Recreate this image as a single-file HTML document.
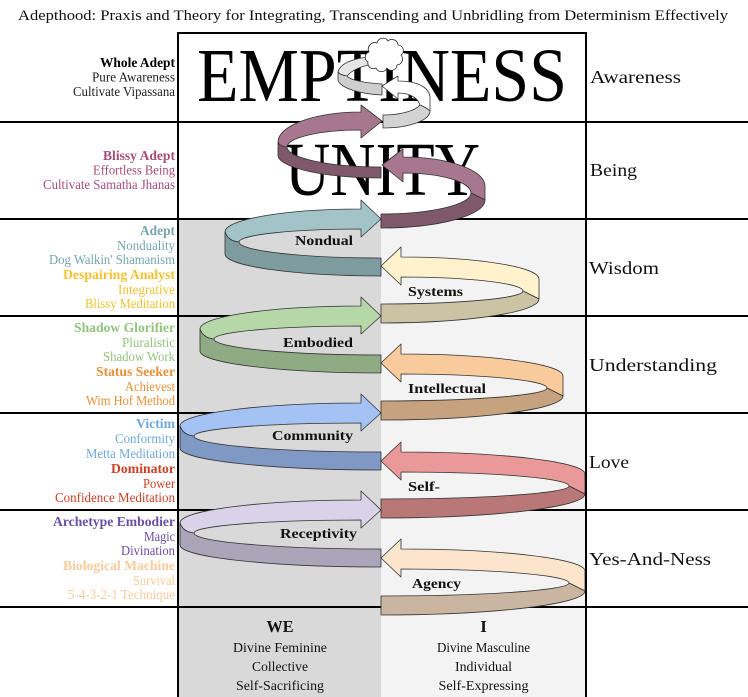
<!DOCTYPE html>
<html>
<head>
<meta charset="utf-8">
<style>
  html,body{margin:0;padding:0;background:#fff;}
  svg{display:block;}
  text{font-family:"Liberation Serif","DejaVu Serif",serif;}
  .b{font-weight:bold;}
</style>
</head>
<body>
<svg width="748" height="697" viewBox="0 0 748 697" xmlns="http://www.w3.org/2000/svg">
  <rect x="0" y="0" width="748" height="697" fill="#ffffff"/>
  <!-- middle column backgrounds -->
  <rect x="178" y="219" width="203" height="478" fill="#d9d9d9"/>
  <rect x="381" y="219" width="205" height="478" fill="#f3f3f3"/>

  <!-- horizontal lines -->
  <g stroke="#000" stroke-width="2">
    <line x1="177" y1="33" x2="587" y2="33"/>
    <line x1="0" y1="122" x2="748" y2="122"/>
    <line x1="0" y1="219" x2="748" y2="219"/>
    <line x1="0" y1="316" x2="748" y2="316"/>
    <line x1="0" y1="413" x2="748" y2="413"/>
    <line x1="0" y1="510" x2="748" y2="510"/>
    <line x1="0" y1="607" x2="748" y2="607"/>
  </g>

  <!-- Title -->
  <text x="18" y="20" font-size="15" textLength="710" lengthAdjust="spacingAndGlyphs" fill="#111">Adepthood: Praxis and Theory for Integrating, Transcending and Unbridling from Determinism Effectively</text>

  <!-- Big words -->
  <text x="197" y="101" font-size="76" textLength="370" lengthAdjust="spacingAndGlyphs" fill="#000">EMPTINESS</text>
  <text x="285" y="195" font-size="76" textLength="195" lengthAdjust="spacingAndGlyphs" fill="#000">UNITY</text>

  <!-- Arrows -->
  <g stroke="#333" stroke-width="0.8" stroke-linejoin="round">
    <!-- Row 1 grey loop -->
    <path d="M370,57 C355,58 340,63 338,72 Q340,75 347,76 C352,70 362,66 374,64 Z" fill="#e6e6e6"/>
    <path d="M338,72 L338,80 C340,88 360,94 382,95 L382,84 C365,83 350,80 347,76 Q340,75 338,72 Z" fill="#cfcfcf"/>
    <path d="M398,81 C420,81 430,89 430,98 L430,111 Q427,108 420,105 C418,98 410,93 398,93 L398,99 L382,86 L398,76 Z" fill="#ffffff"/>
    <path d="M430,111 C430,120 410,128 383,128 L383,115 C400,115 415,111 420,105 Q427,108 430,111 Z" fill="#d3d3d3"/>
    <!-- Cloud -->
    <path d="M368,62 A5.5,5.5 0 0,1 369,52 A6.5,6.5 0 0,1 377,43 A6,6 0 0,1 388,41 A6,6 0 0,1 398,45 A5.5,5.5 0 0,1 401,55 A6,6 0 0,1 397,65 A5.5,5.5 0 0,1 387,68 A6,6 0 0,1 376,68 A5.5,5.5 0 0,1 368,62 Z" fill="#ffffff" stroke="#222"/>

    <!-- Row 2 purple left -->
    <path d="M361,112 C315.2,112 278,125.4 278,142 Q280,147 287,147 C287,137.6 320.2,130 361,130 L361,138 L382,121 L361,105 Z" fill="#a6778f"/>
    <path d="M278,142 L278,155 C278,167.7 324.1,178 381,178 L381,167 C329.1,167 287,158 287,147 Q280,147 278,142 Z" fill="#7f586c"/>
    <!-- Row 2 purple right -->
    <path d="M403,157 C448.3,157 485,170 485,186 L485,200 Q481,198 471,193 C471,182 440.5,173 403,173 L403,182 L382,165 L403,149 Z" fill="#a6778f"/>
    <path d="M485,200 C485,215.5 438.4,228 381,228 L381,214 C430.7,214 471,204.6 471,193 Q481,198 485,200 Z" fill="#7f586c"/>

    <!-- Row 3 Nondual -->
    <path d="M361,209 C286,209 225,219.3 225,232 Q228,241 239,242 C239,234.8 293.7,229 361,229 L361,237 L381,219 L361,200 Z" fill="#a2c4c9"/>
    <path d="M225,232 L225,254 C225,266.1 294.9,276 381,276 L381,258 C302.6,258 239,250.8 239,242 Q228,241 225,232 Z" fill="#7e9ba0"/>
    <!-- Row 3 Systems -->
    <path d="M401,257 C477.2,257 539,266.9 539,279 L539,299 Q535,297 523,291 C523,283.3 468.3,277 401,277 L401,285 L381,266 L401,247 Z" fill="#fff2cc"/>
    <path d="M539,299 C539,312.2 468.2,323 381,323 L381,304 C459.4,304 523,298.2 523,291 Q535,297 539,299 Z" fill="#cbc3a3"/>

    <!-- Row 4 Embodied -->
    <path d="M361,306 C272.1,306 200,316.3 200,329 Q203,338 214,339 C214,331.8 279.9,326 361,326 L361,334 L381,316 L361,297 Z" fill="#b6d7a8"/>
    <path d="M200,329 L200,351 C200,363.1 281.1,373 381,373 L381,355 C288.8,355 214,347.8 214,339 Q203,338 200,329 Z" fill="#8fab84"/>
    <!-- Row 4 Intellectual -->
    <path d="M401,354 C490.4,354 563,363.9 563,376 L563,396 Q559,394 547,388 C547,380.3 481.6,374 401,374 L401,382 L381,363 L401,344 Z" fill="#f9cb9c"/>
    <path d="M563,396 C563,409.2 481.5,420 381,420 L381,401 C472.6,401 547,395.2 547,388 Q559,394 563,396 Z" fill="#c7a27e"/>

    <!-- Row 5 Community -->
    <path d="M361,403 C261.1,403 180,413.3 180,426 Q183,435 194,436 C194,428.8 268.8,423 361,423 L361,431 L381,413 L361,394 Z" fill="#a4c2f4"/>
    <path d="M180,426 L180,448 C180,460.1 270,470 381,470 L381,452 C277.8,452 194,444.8 194,436 Q183,435 180,426 Z" fill="#7f99c4"/>
    <!-- Row 5 Self- -->
    <path d="M401,452 C502.6,452 585,461.9 585,474 L585,494 Q581,492 569,486 C569,478.3 493.7,472 401,472 L401,480 L381,461 L401,442 Z" fill="#ea9999"/>
    <path d="M585,494 C585,507.2 493.6,518 381,518 L381,499 C484.8,499 569,493.2 569,486 Q581,492 585,494 Z" fill="#b97777"/>

    <!-- Row 6 Receptivity -->
    <path d="M361,500 C261.1,500 180,510.3 180,523 Q183,532 194,533 C194,525.8 268.8,520 361,520 L361,528 L381,510 L361,491 Z" fill="#d9d2e9"/>
    <path d="M180,523 L180,545 C180,557.1 270,567 381,567 L381,549 C277.8,549 194,541.8 194,533 Q183,532 180,523 Z" fill="#aaa5b9"/>
    <!-- Row 6 Agency -->
    <path d="M401,549 C502.6,549 585,558.9 585,571 L585,591 Q581,589 569,583 C569,575.3 493.7,569 401,569 L401,577 L381,558 L401,539 Z" fill="#fce5cd"/>
    <path d="M585,591 C585,604.2 493.6,615 381,615 L381,596 C484.8,596 569,590.2 569,583 Q581,589 585,591 Z" fill="#c9b5a0"/>
  </g>

  <!-- Arrow labels -->
  <g font-size="14" font-weight="bold" fill="#111">
    <text x="295" y="245" textLength="58" lengthAdjust="spacingAndGlyphs">Nondual</text>
    <text x="283" y="347" textLength="70" lengthAdjust="spacingAndGlyphs">Embodied</text>
    <text x="272" y="440" textLength="81" lengthAdjust="spacingAndGlyphs">Community</text>
    <text x="280" y="538" textLength="77" lengthAdjust="spacingAndGlyphs">Receptivity</text>
    <text x="408" y="296" textLength="55" lengthAdjust="spacingAndGlyphs">Systems</text>
    <text x="408" y="393" textLength="78" lengthAdjust="spacingAndGlyphs">Intellectual</text>
    <text x="408" y="491" textLength="32" lengthAdjust="spacingAndGlyphs">Self-</text>
    <text x="412" y="588" textLength="49" lengthAdjust="spacingAndGlyphs">Agency</text>
  </g>

  <!-- Left labels -->
  <g font-size="14" text-anchor="end">
    <text x="175" y="67" class="b" fill="#000" textLength="75" lengthAdjust="spacingAndGlyphs">Whole Adept</text>
    <text x="175" y="81.5" fill="#222" textLength="83" lengthAdjust="spacingAndGlyphs">Pure Awareness</text>
    <text x="175" y="96" fill="#222" textLength="102" lengthAdjust="spacingAndGlyphs">Cultivate Vipassana</text>

    <text x="175" y="160" class="b" fill="#a64d79" textLength="72" lengthAdjust="spacingAndGlyphs">Blissy Adept</text>
    <text x="175" y="174.5" fill="#a64d79" textLength="82" lengthAdjust="spacingAndGlyphs">Effortless Being</text>
    <text x="175" y="189" fill="#a64d79" textLength="132" lengthAdjust="spacingAndGlyphs">Cultivate Samatha Jhanas</text>

    <text x="175" y="235" class="b" fill="#76a5af" textLength="35" lengthAdjust="spacingAndGlyphs">Adept</text>
    <text x="175" y="250" fill="#76a5af" textLength="58" lengthAdjust="spacingAndGlyphs">Nonduality</text>
    <text x="175" y="264" fill="#76a5af" textLength="126" lengthAdjust="spacingAndGlyphs">Dog Walkin' Shamanism</text>
    <text x="175" y="279" class="b" fill="#f1c232" textLength="112" lengthAdjust="spacingAndGlyphs">Despairing Analyst</text>
    <text x="175" y="294" fill="#f1c232" textLength="57" lengthAdjust="spacingAndGlyphs">Integrative</text>
    <text x="175" y="308" fill="#f1c232" textLength="90" lengthAdjust="spacingAndGlyphs">Blissy Meditation</text>

    <text x="175" y="332" class="b" fill="#93c47d" textLength="101" lengthAdjust="spacingAndGlyphs">Shadow Glorifier</text>
    <text x="175" y="347" fill="#93c47d" textLength="53" lengthAdjust="spacingAndGlyphs">Pluralistic</text>
    <text x="175" y="361" fill="#93c47d" textLength="72" lengthAdjust="spacingAndGlyphs">Shadow Work</text>
    <text x="175" y="376" class="b" fill="#e69138" textLength="79" lengthAdjust="spacingAndGlyphs">Status Seeker</text>
    <text x="175" y="391" fill="#e69138" textLength="50" lengthAdjust="spacingAndGlyphs">Achievest</text>
    <text x="175" y="405" fill="#e69138" textLength="89" lengthAdjust="spacingAndGlyphs">Wim Hof Method</text>

    <text x="175" y="428" class="b" fill="#6fa8dc" textLength="39" lengthAdjust="spacingAndGlyphs">Victim</text>
    <text x="175" y="443" fill="#6fa8dc" textLength="60" lengthAdjust="spacingAndGlyphs">Conformity</text>
    <text x="175" y="458" fill="#6fa8dc" textLength="89" lengthAdjust="spacingAndGlyphs">Metta Meditation</text>
    <text x="175" y="473" class="b" fill="#cc4125" textLength="64" lengthAdjust="spacingAndGlyphs">Dominator</text>
    <text x="175" y="488" fill="#cc4125" textLength="32" lengthAdjust="spacingAndGlyphs">Power</text>
    <text x="175" y="502" fill="#cc4125" textLength="120" lengthAdjust="spacingAndGlyphs">Confidence Meditation</text>

    <text x="175" y="526" class="b" fill="#674ea7" textLength="122" lengthAdjust="spacingAndGlyphs">Archetype Embodier</text>
    <text x="175" y="541" fill="#674ea7" textLength="31" lengthAdjust="spacingAndGlyphs">Magic</text>
    <text x="175" y="555" fill="#674ea7" textLength="54" lengthAdjust="spacingAndGlyphs">Divination</text>
    <text x="175" y="570" class="b" fill="#f9cb9c" textLength="112" lengthAdjust="spacingAndGlyphs">Biological Machine</text>
    <text x="175" y="585" fill="#f9cb9c" textLength="42" lengthAdjust="spacingAndGlyphs">Survival</text>
    <text x="175" y="599" fill="#f9cb9c" textLength="107" lengthAdjust="spacingAndGlyphs">5-4-3-2-1 Technique</text>
  </g>

  <!-- Right labels -->
  <g font-size="18" fill="#111">
    <text x="590" y="83" textLength="91" lengthAdjust="spacingAndGlyphs">Awareness</text>
    <text x="590" y="176" textLength="47" lengthAdjust="spacingAndGlyphs">Being</text>
    <text x="589" y="274" textLength="70" lengthAdjust="spacingAndGlyphs">Wisdom</text>
    <text x="589" y="371" textLength="128" lengthAdjust="spacingAndGlyphs">Understanding</text>
    <text x="589" y="468" textLength="40" lengthAdjust="spacingAndGlyphs">Love</text>
    <text x="589" y="565" textLength="122" lengthAdjust="spacingAndGlyphs">Yes-And-Ness</text>
  </g>

  <!-- Bottom labels -->
  <g text-anchor="middle" fill="#111">
    <text x="280" y="632" font-size="17" font-weight="bold" textLength="27" lengthAdjust="spacingAndGlyphs">WE</text>
    <text x="280" y="652" font-size="13.5" textLength="94" lengthAdjust="spacingAndGlyphs">Divine Feminine</text>
    <text x="280" y="671" font-size="13.5" textLength="56" lengthAdjust="spacingAndGlyphs">Collective</text>
    <text x="280" y="690" font-size="13.5" textLength="88" lengthAdjust="spacingAndGlyphs">Self-Sacrificing</text>
    <text x="483.5" y="632" font-size="17" font-weight="bold">I</text>
    <text x="483.5" y="652" font-size="13.5" textLength="93" lengthAdjust="spacingAndGlyphs">Divine Masculine</text>
    <text x="483.5" y="671" font-size="13.5" textLength="57" lengthAdjust="spacingAndGlyphs">Individual</text>
    <text x="483.5" y="690" font-size="13.5" textLength="90" lengthAdjust="spacingAndGlyphs">Self-Expressing</text>
  </g>

  <!-- vertical lines on top -->
  <g stroke="#000" stroke-width="2">
    <line x1="178" y1="32" x2="178" y2="697"/>
    <line x1="586" y1="32" x2="586" y2="697"/>
  </g>
</svg>
</body>
</html>
